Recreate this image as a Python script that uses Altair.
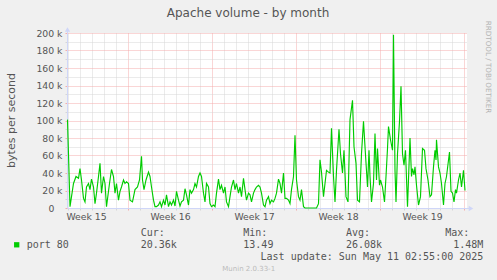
import altair as alt
import pandas as pd

# ---- data (hours relative to Sun May 11 00:00, values in kB/s) ----
hours = [-793, -788, -781, -776, -771, -768, -765, -761, -758, -755, -751, -748, -745, -741, -738,
         -735, -731, -728, -725, -721, -718, -715, -709, -705, -701, -698, -695, -691, -688, -685,
         -681, -678, -675, -671, -668, -663, -658, -653, -649, -645, -643, -640, -636, -631, -628,
         -625, -621, -618, -615, -611, -608, -605, -601, -598, -595, -591, -588, -585, -581, -578,
         -575, -571, -568, -565, -561, -558, -555, -551, -548, -545, -541, -538, -535, -531, -528,
         -525, -521, -518, -515, -511, -508, -505, -501, -498, -495, -491, -488, -485, -481, -478,
         -475, -471, -468, -465, -461, -458, -455, -451, -448, -445, -441, -438, -435, -431, -428,
         -425, -421, -418, -415, -411, -408, -405, -401, -398, -395, -391, -388, -385, -381, -378,
         -375, -371, -368, -365, -361, -358, -355, -351, -348, -345, -341, -338, -335, -331, -328,
         -325, -321, -318, -315, -311, -308, -305, -301, -298, -295, -291, -288, -285, -281, -278,
         -275, -271, -268, -265, -261, -258, -255, -250, -247, -243, -240, -236, -232, -228, -223,
         -220, -216, -213, -209, -205, -201, -198, -193, -190, -188, -185, -181, -178, -175, -173,
         -169, -167, -163, -159, -156, -153, -151, -147, -143, -141, -138, -136, -133, -129, -126,
         -123, -120, -117, -113, -108, -105, -103, -100, -98, -95, -91, -87, -83, -79, -76,
         -72, -68, -65, -61, -58, -56, -55, -51, -48, -45, -41, -38, -35, -29, -26,
         -23, -20, -17, -15, -11, -8, -5, -1, 2]
values_k = [101, 1.5, 28, 36, 34, 45, 32, 11, 7, 24, 28, 21, 33, 24, 5,
            17, 36, 51, 17, 36, 28, 1.5, 28, 44, 36, 17, 28, 9, 19, 24,
            32, 28, 30, 28, 9, 7, 21, 24, 32, 59, 32, 21, 32, 41, 36,
            24, 9, 1.5, 1.5, 3.4, 7, 1.5, 9, 3.4, 15, 1.5, 7, 3.4, 9, 2.3,
            19, 9, 2.3, 7, 9, 22, 15, 3.4, 21, 17, 21, 28, 24, 36, 40,
            36, 17, 7, 28, 24, 5, 1.5, 3.4, 1.5, 17, 33, 21, 26, 17, 24,
            7, 1.5, 13, 24, 32, 21, 28, 17, 24, 13, 34, 21, 9, 17, 15,
            7, 17, 21, 24, 26, 24, 17, 3.4, 1.5, 9, 13, 5, 9, 7, 11,
            17, 33, 28, 17, 40, 11, 11, 9, 5, 21, 36, 83, 32, 13, 9,
            21, 1.5, 0, 0, 0, 0, 0, 0, 0, 0, 5, 55, 41, 13, 28,
            43, 41, 40, 91, 36, 7, 43, 90, 62, 40, 66, 13, 7, 101, 123,
            70, 51, 9, 7, 62, 99, 70, 24, 66, 36, 7, 28, 85, 32, 68,
            26, 32, 24, 7, 36, 68, 93, 78, 66, 198, 43, 7, 62, 99, 139,
            62, 49, 66, 1.5, 80, 36, 45, 38, 47, 26, 3.4, 13, 68, 66, 45,
            32, 13, 15, 47, 66, 55, 78, 47, 40, 28, 3.4, 28, 36, 64, 19,
            17, 7, 21, 17, 32, 40, 24, 43, 20]

title_text = "Apache volume - by month"
y_title = "bytes per second"
side_text = "RRDTOOL / TOBI OETIKER"
series_name = "port 80"
stat_heads = ["Cur:", "Min:", "Avg:", "Max:"]
stat_vals = ["20.36k", "13.49", "26.08k", "1.48M"]
last_update = "Last update: Sun May 11 02:55:00 2025"
footer = "Munin 2.0.33-1"
y_ticks = list(range(0, 201, 10))
x_ticks = list(range(-792, 1, 24)) + [-756, -588, -420, -252, -84]

RED = "#f4acac"
GRAY = "#d6d6d6"
AXIS = "#cfd6f8"
TXT = "#555555"
GREEN = "#00cc00"

df = pd.DataFrame({"h": hours, "v": values_k})

x_axis = alt.Axis(
    values=x_ticks, title=None,
    labelExpr="datum.value % 24 === 0 ? '' : 'Week ' + (19 + (datum.value + 84) / 168)",
    labelFont="DejaVu Sans", labelFontSize=9.3, labelColor=TXT, labelPadding=2,
    labelOverlap=False, labelFlush=False, labelBound=False,
    grid=True, gridDash=[1, 1], gridWidth=1,
    gridColor={"condition": {"test": "datum.value % 168 === 0", "value": RED}, "value": GRAY},
    gridOpacity={"condition": {"test": "datum.value % 24 === 0", "value": 1}, "value": 0},
    ticks=True, tickSize=2,
    tickColor={"condition": {"test": "datum.value % 168 === 0", "value": RED}, "value": GRAY},
    tickOpacity={"condition": {"test": "datum.value % 24 === 0", "value": 1}, "value": 0},
    domain=True, domainColor=AXIS, domainWidth=1,
)

y_axis = alt.Axis(
    values=y_ticks, title=None,
    labelExpr="datum.value % 20 === 0 ? (datum.value === 0 ? '0' : datum.value + ' k') : ''",
    labelFont="DejaVu Sans", labelFontSize=9.3, labelColor=TXT,
    labelPadding={"condition": {"test": "datum.value === 0", "value": 11}, "value": 3},
    labelOverlap=False, labelFlush=False, labelBound=False,
    grid=True, gridDash=[1, 1], gridWidth=1,
    gridColor={"condition": {"test": "datum.value % 20 === 0", "value": RED}, "value": GRAY},
    ticks=True, tickSize=2,
    tickColor={"condition": {"test": "datum.value % 20 === 0", "value": RED}, "value": GRAY},
    domain=True, domainColor=AXIS, domainWidth=1,
)

line = alt.Chart(df).mark_line(color=GREEN, strokeWidth=1.15).encode(
    x=alt.X("h:Q", scale=alt.Scale(domain=[-794, 6], nice=False, zero=False), axis=x_axis),
    y=alt.Y("v:Q", scale=alt.Scale(domain=[0, 200], nice=False), axis=y_axis),
)


def txt(s, x, y, size, font="DejaVu Sans", color=TXT, align="left", angle=0):
    return alt.Chart(pd.DataFrame({"t": [s]})).mark_text(
        font=font, fontSize=size, color=color, align=align, baseline="middle", angle=angle
    ).encode(x=alt.value(x), y=alt.value(y), text="t:N")


one = pd.DataFrame({"a": [0]})
decor = [
    alt.Chart(one).mark_rule(color=AXIS, strokeWidth=1).encode(
        x=alt.value(0.5), y=alt.value(-2), y2=alt.value(1)),
    alt.Chart(one).mark_rule(color=AXIS, strokeWidth=1).encode(
        x=alt.value(399), x2=alt.value(402), y=alt.value(175.5)),
    alt.Chart(one).mark_point(shape="triangle-up", size=28, filled=True, color=AXIS, opacity=1).encode(
        x=alt.value(0.5), y=alt.value(-3.5)),
    alt.Chart(one).mark_point(shape="triangle-right", size=28, filled=True, color=AXIS, opacity=1).encode(
        x=alt.value(404), y=alt.value(175.5)),
    alt.Chart(one).mark_square(size=28, filled=True, color=GREEN, opacity=1).encode(
        x=alt.value(-50.3), y=alt.value(211.8)),
]

MONO = "DejaVu Sans Mono"
texts = [
    txt(title_text, 181, -20.5, 12, align="center"),
    txt(y_title, -55, 87.5, 11, align="center", angle=270),
    txt(side_text, 421, 34, 7.2, color="#b4b4b4", align="center", angle=90),
    txt(series_name, -40.3, 212, 10, font=MONO),
    txt(stat_heads[0], 73.7, 200.3, 10, font=MONO),
    txt(stat_heads[1], 176.3, 200.3, 10, font=MONO),
    txt(stat_heads[2], 279, 200.3, 10, font=MONO),
    txt(stat_heads[3], 402.3, 200.3, 10, font=MONO, align="right"),
    txt(stat_vals[0], 73.7, 212, 10, font=MONO),
    txt(stat_vals[1], 176.3, 212, 10, font=MONO),
    txt(stat_vals[2], 279, 212, 10, font=MONO),
    txt(stat_vals[3], 416.3, 212, 10, font=MONO, align="right"),
    txt(last_update, 416.3, 224.3, 10, font=MONO, align="right"),
    txt(footer, 181.7, 236.3, 7, color="#bbbbbb", align="center"),
]

chart = alt.layer(line, *decor, *texts).properties(
    width=400, height=175,
    padding={"left": 67, "top": 33, "right": 30, "bottom": 72},
    autosize="none",
    background="#f0f0f0",
).configure_view(fill="white", stroke=None)

chart.save("out.html", embed_options={"renderer": "svg", "actions": False})
